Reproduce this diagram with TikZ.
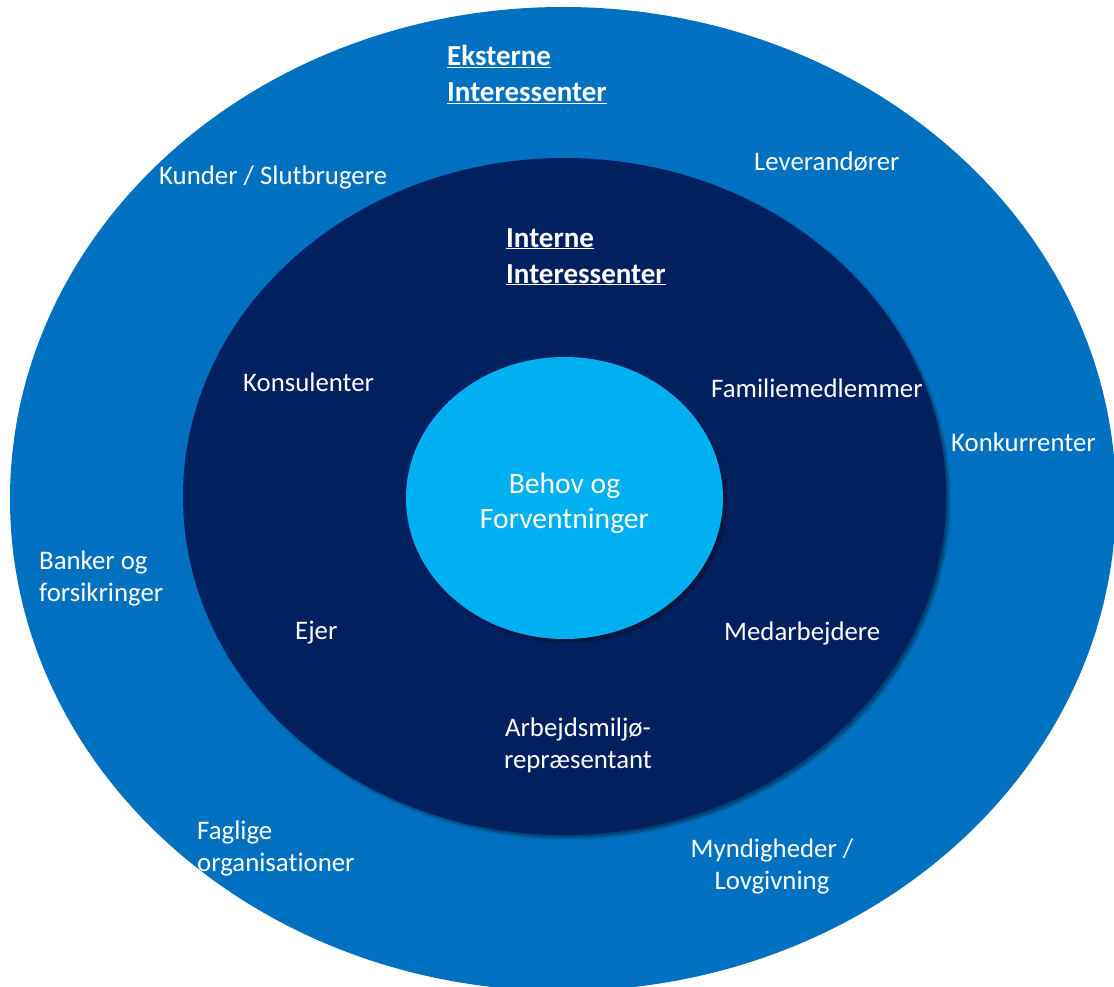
\documentclass[tikz,border=0pt]{standalone}
\usepackage{fontspec}
\setmainfont{Carlito}[Ligatures=NoCommon]
\usetikzlibrary{shadows.blur}
\definecolor{outerblue}{HTML}{0070C0}
\definecolor{midnavy}{HTML}{002060}
\definecolor{innerblue}{HTML}{00B0F0}
\tikzset{
  lbl/.style={text=white, inner sep=0pt, font=\fontsize{26.8}{32}\selectfont},
  head/.style={text=white, inner sep=0pt, align=left, font=\fontsize{29}{36}\selectfont\bfseries},
}
\begin{document}
\begin{tikzpicture}[x=1pt,y=-1pt]
\useasboundingbox (0,0) rectangle (1114,987);
\fill[outerblue] (563,499) ellipse [x radius=553, y radius=492];
\fill[midnavy, blur shadow={shadow xshift=3pt, shadow yshift=-3pt, shadow opacity=40, shadow blur steps=8}] (564.5,496.5) ellipse [x radius=381.5, y radius=338.5];
\fill[innerblue, blur shadow={shadow xshift=3pt, shadow yshift=-3pt, shadow opacity=40, shadow blur steps=8}] (564.5,498) ellipse [x radius=158.5, y radius=141];

% headings
\node[head, anchor=north west] (ext) at (447,45) {\underline{Eksterne}\\\underline{Interessenter}};
\node[head, anchor=north west] (int) at (506,228) {\underline{Interne}\\\underline{Interessenter}};

% outer labels
\node[lbl, anchor=base west] (kunder) at (159,185) {Kunder / Slutbrugere};
\node[lbl, anchor=base west] (lev) at (754,171) {Leverandører};
\node[lbl, anchor=base west] (konk) at (951,451) {Konkurrenter};
\node[lbl, anchor=west, align=left] (bank) at (39,578) {Banker og\\forsikringer};
\node[lbl, anchor=west, align=left] (fag) at (197,848) {Faglige\\organisationer};
\node[lbl, align=center] (myn) at (772,866) {Myndigheder /\\Lovgivning};

% inner labels
\node[lbl, anchor=base west] (kons) at (243,391) {Konsulenter};
\node[lbl, anchor=base west] (fam) at (711,397) {Familiemedlemmer};
\node[lbl, anchor=base west] (ejer) at (295,639) {Ejer};
\node[lbl, anchor=base west] (med) at (724,640) {Medarbejdere};
\node[lbl, align=center] (arb) at (578,745) {Arbejdsmiljø-\\repræsentant};

% center
\node[lbl, align=center, font=\fontsize{29.6}{35}\selectfont] (behov) at (564.5,503) {Behov og\\Forventninger};
\end{tikzpicture}
\end{document}
